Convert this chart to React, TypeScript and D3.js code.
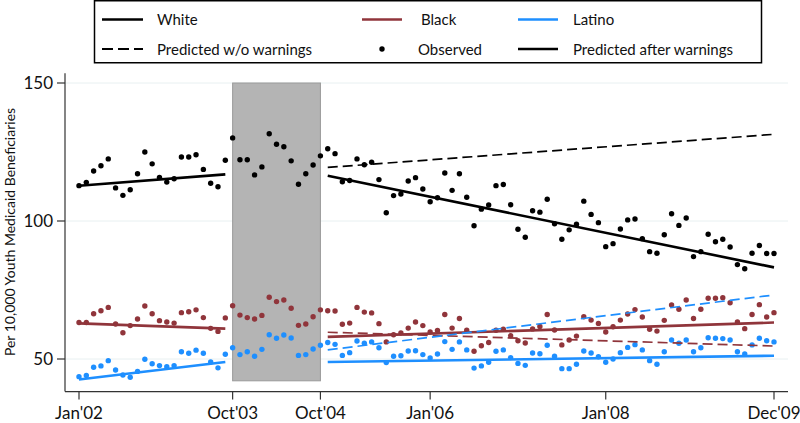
import React from "react";
import * as d3 from "d3";

// month index: 0 = Jan'02 ... 95 = Dec'09
const whiteObs = [112.8,114.0,118.1,120.0,122.5,112.0,109.3,111.3,117.1,125.0,120.7,115.8,114.1,115.3,123.2,123.2,124.0,118.7,113.7,112.4,122.0,130.1,122.2,122.2,116.7,119.6,131.6,127.8,126.9,121.8,113.3,117.1,120.3,123.6,126.2,124.4,114.2,114.7,122.5,120.4,121.3,115.0,103.0,109.2,109.8,114.5,115.7,111.6,107.0,108.4,117.4,111.1,117.1,108.6,98.3,104.3,105.8,112.8,113.2,105.9,97.0,94.1,103.7,103.2,107.9,99.0,93.4,96.8,98.8,107.2,102.4,99.4,90.7,91.8,97.1,100.4,100.7,93.6,88.9,88.3,95.0,102.6,98.4,101.1,87.1,88.9,95.2,92.5,93.4,90.6,84.2,82.7,88.3,91.1,88.2,88.2];
const blackObs = [63.2,63.2,66.4,67.5,68.7,62.7,59.5,62.1,64.5,69.2,66.4,63.9,63.4,63.0,66.8,67.1,67.8,65.0,61.1,60.0,64.9,69.3,65.9,65.0,64.5,65.8,72.4,70.8,71.4,68.4,62.2,62.7,65.3,67.8,67.5,67.4,62.6,63.0,68.7,67.0,66.7,62.8,56.2,58.8,59.4,61.2,63.4,62.1,59.8,60.3,66.1,61.2,64.7,60.4,52.8,54.8,56.0,60.4,60.8,58.4,56.6,55.8,60.9,61.8,66.1,60.5,55.1,56.9,58.3,65.3,64.1,62.9,59.8,61.7,64.1,66.3,67.9,65.2,60.8,60.1,64.0,69.6,68.0,71.4,64.7,68.0,72.0,72.0,72.2,70.4,63.4,61.0,66.1,69.7,65.2,66.8];
const latinoObs = [43.6,44.0,47.0,47.5,49.4,46.0,44.2,43.4,45.5,49.9,48.3,47.6,47.2,47.6,52.6,52.1,53.2,52.1,48.9,46.8,51.7,54.1,51.6,52.6,51.0,53.5,58.8,57.5,58.7,57.6,51.3,51.6,53.6,55.0,56.0,55.3,51.3,52.3,56.5,55.7,56.2,54.1,48.7,51.0,51.2,52.9,53.0,51.6,50.4,51.8,56.3,53.5,56.2,53.3,46.7,47.5,48.8,52.8,53.3,50.5,48.4,47.7,52.2,51.9,55.0,51.0,46.5,46.5,48.1,52.9,52.2,50.8,48.8,50.0,52.3,54.2,55.2,53.3,49.4,48.1,52.6,56.9,55.7,56.9,52.6,54.1,57.7,57.5,57.4,56.9,52.6,51.8,55.1,57.5,56.6,56.2];

// fitted segments: [startMonth, startValue, endMonth, endValue]
const whitePre = [0, 112.8, 20, 116.9];
const blackPre = [0, 62.9, 20, 61.0];
const latinoPre = [0, 42.6, 20, 48.9];
const whitePost = [34, 116.4, 95, 83.2];
const blackPost = [34, 58.0, 95, 63.2];
const latinoPost = [34, 48.9, 95, 51.2];
const whiteNoWarn = [34, 119.4, 95, 131.4];
const blackNoWarn = [34, 59.7, 95, 54.7];
const latinoNoWarn = [34, 53.3, 95, 73.2];

const xTickMonths = [0, 21, 33, 48, 72, 95];
const xTickLabels = ["Jan'02", "Oct'03", "Oct'04", "Jan'06", "Jan'08", "Dec'09"];
const yTicks = [50, 100, 150];
const shadeMonths = [21, 33];
const shadeValues = [42.1, 150];

const C_WHITE = "#000000";
const C_BLACK = "#90353b";
const C_LATINO = "#1e8fff";
const FONT = "Lato, 'Open Sans', sans-serif";

export default function App() {
  const x = d3.scaleLinear().domain([0, 95]).range([79, 774]);
  const y = d3.scaleLinear().domain([50, 150]).range([359, 83]);
  const axisLeft = 65;
  const axisRight = 788;
  const axisBottom = y(38.2);
  const axisTop = y(153.5);

  const seg = (s: number[], color: string, dashed: boolean, key: string) => (
    <line
      key={key}
      x1={x(s[0])}
      y1={y(s[1])}
      x2={x(s[2])}
      y2={y(s[3])}
      stroke={color}
      strokeWidth={dashed ? 1.7 : 2.6}
      strokeDasharray={dashed ? "10,5" : undefined}
    />
  );

  const dots = (vals: number[], color: string, key: string) =>
    vals.map((v, i) => (
      <circle key={key + i} cx={x(i)} cy={y(v)} r={2.7} fill={color} />
    ));

  return (
    <svg
      width={800}
      height={423}
      style={{ position: "absolute", left: 0, top: 0, background: "#fff" }}
      fontFamily={FONT}
    >
      <rect x={0} y={0} width={800} height={423} fill="#fff" />
      {/* grid */}
      {yTicks.map((t) => (
        <line key={"g" + t} x1={axisLeft} x2={axisRight} y1={y(t)} y2={y(t)} stroke="#e8f0f1" strokeWidth={1} />
      ))}
      {/* shaded period */}
      <rect
        x={x(shadeMonths[0])}
        y={y(shadeValues[1])}
        width={x(shadeMonths[1]) - x(shadeMonths[0])}
        height={y(shadeValues[0]) - y(shadeValues[1])}
        fill="#b4b4b4"
        stroke="#9a9a9a"
        strokeWidth={1}
      />
      {/* observed */}
      {dots(whiteObs, C_WHITE, "w")}
      {dots(blackObs, C_BLACK, "b")}
      {dots(latinoObs, C_LATINO, "l")}
      {/* fits */}
      {seg(whitePre, C_WHITE, false, "wp")}
      {seg(blackPre, C_BLACK, false, "bp")}
      {seg(latinoPre, C_LATINO, false, "lp")}
      {seg(whitePost, C_WHITE, false, "wq")}
      {seg(blackPost, C_BLACK, false, "bq")}
      {seg(latinoPost, C_LATINO, false, "lq")}
      {seg(whiteNoWarn, C_WHITE, true, "wn")}
      {seg(blackNoWarn, C_BLACK, true, "bn")}
      {seg(latinoNoWarn, C_LATINO, true, "ln")}
      {/* axes */}
      <line x1={axisLeft} x2={axisLeft} y1={axisTop} y2={axisBottom} stroke="#333" strokeWidth={1.2} />
      <line x1={axisLeft} x2={axisRight} y1={axisBottom} y2={axisBottom} stroke="#333" strokeWidth={1.2} />
      {yTicks.map((t) => (
        <g key={"yt" + t}>
          <line x1={axisLeft - 8} x2={axisLeft} y1={y(t)} y2={y(t)} stroke="#333" strokeWidth={1.2} />
          <text x={axisLeft - 12} y={y(t)} dy="0.36em" textAnchor="end" fontSize={17} fill="#111">
            {t}
          </text>
        </g>
      ))}
      {xTickMonths.map((m, i) => (
        <g key={"xt" + m}>
          <line x1={x(m)} x2={x(m)} y1={axisBottom} y2={axisBottom + 8} stroke="#333" strokeWidth={1.2} />
          <text x={x(m)} y={419} textAnchor="middle" fontSize={17} fill="#111">
            {xTickLabels[i]}
          </text>
        </g>
      ))}
      <text
        transform={`translate(15,232) rotate(-90)`}
        textAnchor="middle"
        fontSize={14}
        fill="#111"
      >
        Per 10,000 Youth Medicaid Beneficiaries
      </text>
      {/* legend */}
      <rect x={94.5} y={0.75} width={667} height={62} fill="#fff" stroke="#000" strokeWidth={1.5} />
      <line x1={102} x2={143} y1={19.5} y2={19.5} stroke={C_WHITE} strokeWidth={2.6} />
      <text x={157} y={25} fontSize={15} fill="#111">White</text>
      <line x1={362} x2={402} y1={19.5} y2={19.5} stroke={C_BLACK} strokeWidth={2.6} />
      <text x={421} y={25} fontSize={15} fill="#111">Black</text>
      <line x1={518} x2={558} y1={19.5} y2={19.5} stroke={C_LATINO} strokeWidth={2.6} />
      <text x={573} y={25} fontSize={15} fill="#111">Latino</text>
      <line x1={102} x2={143} y1={49} y2={49} stroke="#000" strokeWidth={1.8} strokeDasharray="11,5" />
      <text x={157} y={54.5} fontSize={15} fill="#111">Predicted w/o warnings</text>
      <circle cx={382} cy={49} r={2.7} fill="#000" />
      <text x={418} y={54.5} fontSize={15} fill="#111">Observed</text>
      <line x1={518} x2={558} y1={49} y2={49} stroke="#000" strokeWidth={2.6} />
      <text x={573} y={54.5} fontSize={15} fill="#111">Predicted after warnings</text>
    </svg>
  );
}
